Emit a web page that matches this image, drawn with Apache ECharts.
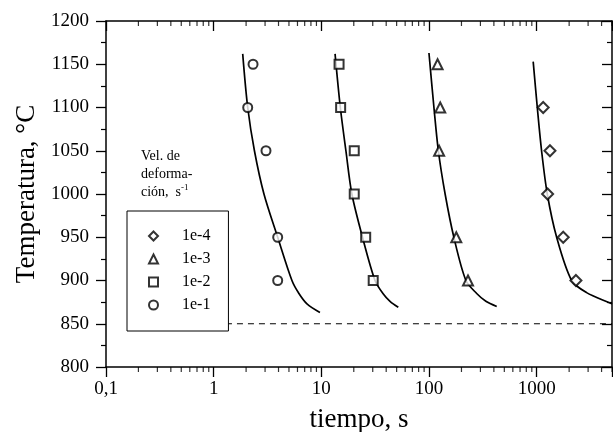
<!DOCTYPE html>
<html>
<head>
<meta charset="utf-8">
<title>Temperatura vs tiempo</title>
<script src="https://cdn.jsdelivr.net/npm/echarts@6/dist/echarts.min.js"></script>
<style>
  html, body { margin: 0; padding: 0; background: #fff; }
  #chart { width: 613px; height: 432px; }
</style>
</head>
<body>
<div id="chart"></div>
<script>
// measured points (tiempo in s, temperatura in C)
var circleTime = [2.32, 2.07, 3.06, 3.93, 3.93];
var circleTemp = [1150, 1100, 1050, 950, 900];
var squareTime = [14.6, 15.1, 20.2, 20.2, 25.8, 30.3];
var squareTemp = [1150, 1100, 1050, 1000, 950, 900];
var triTime = [120, 127, 124, 179, 230];
var triTemp = [1150, 1100, 1050, 950, 900];
var diaTime = [1148, 1327, 1262, 1762, 2312];
var diaTemp = [1100, 1050, 1000, 950, 900];

// fitted curves
var fitCircleTime = [1.86, 2.07, 2.39, 2.93, 3.93, 5.33, 6.19, 7.35, 9.7];
var fitCircleTemp = [1162, 1100, 1050, 1000, 950, 900, 885, 873, 863];
var fitSquareTime = [13.4, 15.0, 16.9, 19.2, 24.1, 31.5, 37.3, 43.4, 51.8];
var fitSquareTemp = [1162, 1100, 1050, 1000, 950, 900, 885, 876, 869];
var fitTriTime = [99.8, 111, 122, 141, 170, 220, 277, 337, 425];
var fitTriTemp = [1163, 1100, 1050, 1000, 950, 900, 885, 876, 870];
var fitDiaTime = [927, 1012, 1109, 1253, 1531, 2110, 2905, 4786, 5000];
var fitDiaTemp = [1153, 1100, 1050, 1000, 950, 900, 886, 874, 873];

// dashed reference line
var refTime = [1.3, 5000];
var refTemp = [850, 850];

var legendNames = ['1e-4', '1e-3', '1e-2', '1e-1'];
var xMin = 0.1, xMax = 5000;
var minorMult = [2, 3, 4, 5, 6, 7, 8, 9];
var decades = [0.1, 1, 10, 100, 1000];

var FONT = 'Liberation Serif';

function pts(times, temps) {
  return times.map(function (t, i) { return [Math.log10(t), temps[i]]; });
}

// log minor ticks on the bottom and top axes
var minorBottom = [], minorTop = [];
decades.forEach(function (d) {
  minorMult.forEach(function (k) {
    if (k * d <= xMax) {
      minorBottom.push([Math.log10(k * d), 800]);
      minorTop.push([Math.log10(k * d), 1200]);
    }
  });
});

function fitLine(times, temps) {
  return {
    type: 'line', data: pts(times, temps), smooth: 0.3,
    showSymbol: false, silent: true,
    lineStyle: { color: '#000', width: 1.7 }, z: 3
  };
}
function marks(name, sym, times, temps, size) {
  return {
    name: name, type: 'scatter', data: pts(times, temps), symbol: sym, symbolSize: size,
    itemStyle: { color: '#000', borderWidth: 1.3 }, z: 4
  };
}
function tickMarks(data) {
  return {
    type: 'scatter', data: data, symbol: 'rect', symbolSize: [1.2, 5], symbolOffset: [0, 2.5],
    itemStyle: { color: '#000' }, silent: true, clip: false, z: 5
  };
}

var axisLineStyle = { onZero: false, lineStyle: { color: '#000', width: 1.5 } };

var chart = echarts.init(document.getElementById('chart'));
var option = {
  animation: false,
  backgroundColor: '#fff',
  grid: { left: 106, right: 1, top: 21, bottom: 65, outerBoundsMode: 'none' },
  title: {
    left: 136, top: 142,
    text: '{a|Vel. de}\n{a|deforma-}\n{a|ción,  s}{s|-1}',
    textStyle: {
      rich: {
        a: { fontFamily: FONT, fontSize: 14, fontWeight: 'normal', lineHeight: 18, color: '#000' },
        s: { fontFamily: FONT, fontSize: 9, fontWeight: 'normal', lineHeight: 18, color: '#000', verticalAlign: 'top' }
      }
    }
  },
  legend: {
    data: legendNames,
    orient: 'vertical',
    left: 127, top: 211,
    padding: [17, 18, 18, 21],
    itemWidth: 9, itemHeight: 9, itemGap: 7,
    borderColor: '#000', borderWidth: 1, backgroundColor: '#fff',
    textStyle: { fontFamily: FONT, fontSize: 16, color: '#000', lineHeight: 16, padding: [0, 0, 0, 19] },
    selectedMode: false
  },
  xAxis: [{
    type: 'value', min: Math.log10(xMin), max: Math.log10(xMax), interval: 1,
    name: 'tiempo, s', nameLocation: 'middle', nameGap: 39,
    nameTextStyle: { fontFamily: FONT, fontSize: 27, color: '#000' },
    axisLine: axisLineStyle,
    axisTick: { inside: false, length: 10, lineStyle: { color: '#000', width: 1.3 } },
    axisLabel: {
      fontFamily: FONT, fontSize: 19, color: '#000', margin: 13,
      formatter: function (v) {
        if (Math.abs(v - Math.round(v)) > 1e-6) return '';
        var n = Math.round(v);
        return n < 0 ? '0,1' : String(Math.pow(10, n));
      }
    },
    splitLine: { show: false }
  }, {
    type: 'value', position: 'top', min: Math.log10(xMin), max: Math.log10(xMax), interval: 1,
    axisLine: axisLineStyle,
    axisTick: { inside: true, length: 10, lineStyle: { color: '#000', width: 1.3 } },
    axisLabel: { show: false }, splitLine: { show: false }
  }],
  yAxis: [{
    type: 'value', min: 800, max: 1200, interval: 50,
    name: 'Temperatura, °C', nameLocation: 'middle', nameGap: 55, nameRotate: 90,
    nameTextStyle: { fontFamily: FONT, fontSize: 27, color: '#000' },
    axisLine: axisLineStyle,
    axisTick: { inside: false, length: 10, lineStyle: { color: '#000', width: 1.3 } },
    minorTick: { show: true, splitNumber: 2, length: 5, lineStyle: { color: '#000', width: 1.2 } },
    axisLabel: { fontFamily: FONT, fontSize: 19, color: '#000', margin: 17, formatter: function (v) { return String(v); } },
    splitLine: { show: false }, minorSplitLine: { show: false }
  }, {
    type: 'value', position: 'right', min: 800, max: 1200, interval: 50,
    axisLine: axisLineStyle,
    axisTick: { inside: true, length: 10, lineStyle: { color: '#000', width: 1.3 } },
    minorTick: { show: true, splitNumber: 2, length: 5, lineStyle: { color: '#000', width: 1.2 } },
    axisLabel: { show: false }, splitLine: { show: false }
  }],
  series: [
    tickMarks(minorBottom),
    tickMarks(minorTop),
    {
      type: 'line', data: pts(refTime, refTemp), showSymbol: false, silent: true,
      lineStyle: { color: '#000', width: 1, type: [6, 5] }, z: 2
    },
    fitLine(fitCircleTime, fitCircleTemp),
    fitLine(fitSquareTime, fitSquareTemp),
    fitLine(fitTriTime, fitTriTemp),
    fitLine(fitDiaTime, fitDiaTemp),
    marks('1e-4', 'emptyDiamond', diaTime, diaTemp, 11),
    marks('1e-3', 'emptyTriangle', triTime, triTemp, 10),
    marks('1e-2', 'emptyRect', squareTime, squareTemp, 9),
    marks('1e-1', 'emptyCircle', circleTime, circleTemp, 9)
  ]
};
chart.setOption(option);
</script>
</body>
</html>
